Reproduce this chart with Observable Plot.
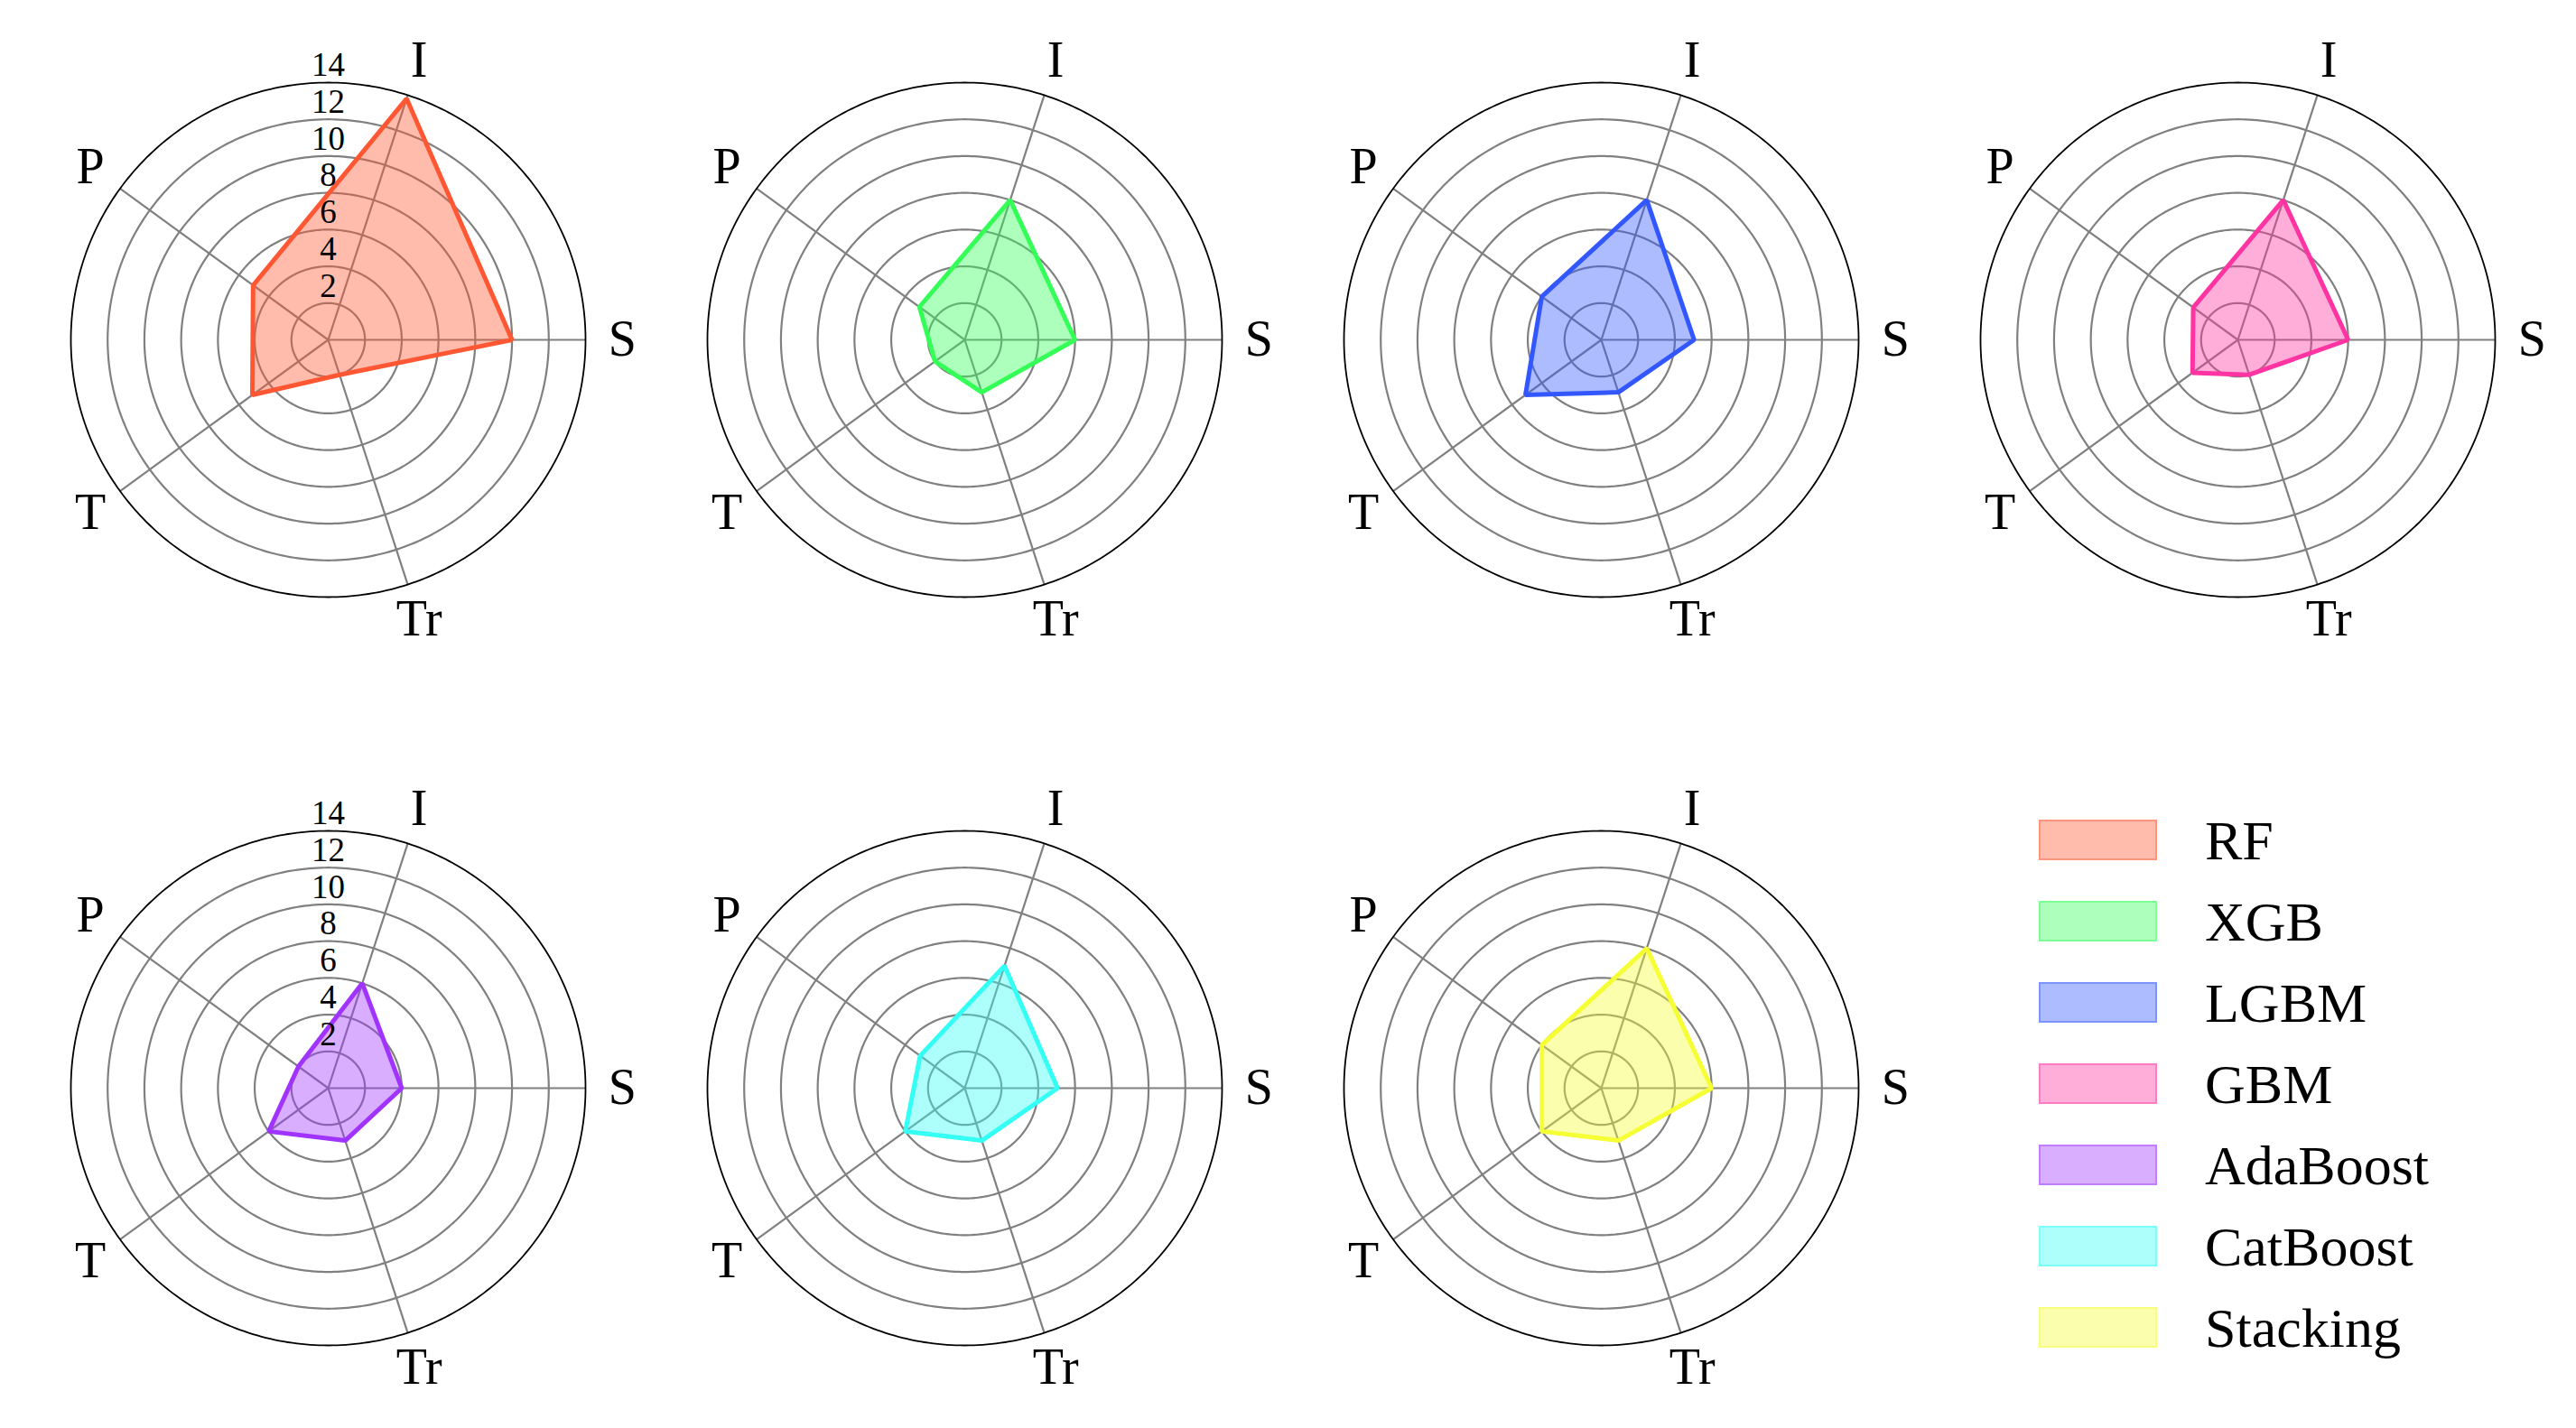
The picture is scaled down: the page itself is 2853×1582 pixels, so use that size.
<!DOCTYPE html>
<html><head><meta charset="utf-8">
<script src="https://cdn.jsdelivr.net/npm/d3@7"></script>
<script src="https://cdn.jsdelivr.net/npm/@observablehq/plot@0.6"></script>
<style>
html,body{margin:0;padding:0;background:#fff;}
#root{position:relative;width:2853px;height:1582px;overflow:hidden;font-family:"Liberation Serif","Times New Roman",serif;background:#fff;}
.panel{position:absolute;}
.panel svg{overflow:visible;}
.legend{position:absolute;left:2258px;top:908px;}
.item{position:absolute;left:0;height:45px;width:560px;}
.sw{position:absolute;left:0;top:0;width:131px;height:45px;}
.lab{position:absolute;left:184px;top:23px;transform:translateY(-50%);font-size:62px;line-height:1;color:#000;white-space:nowrap;}
</style></head><body><div id="root"></div>
<script>
// ---- data ----
const models = ["RF", "XGB", "LGBM", "GBM", "AdaBoost", "CatBoost", "Stacking"];
const axes = ["S", "I", "P", "T", "Tr"];
const colors = ["#FF5733", "#33FF57", "#3357FF", "#FF33A1", "#A133FF", "#33FFF5", "#F5FF33"];
const RF       = [10,   13.8, 5.05, 5.1, 2];
const XGB      = [6,    8,    3.05, 2,   3];
const LGBM     = [5.05, 8,    4,    5.1, 3];
const GBM      = [6,    8,    3,    3.05, 2];
const AdaBoost = [4,    6,    2,    4,   3];
const CatBoost = [5.05, 7,    3,    4,   3];
const Stacking = [6,    8,    4,    4,   3];
const tickValues = [2, 4, 6, 8, 10, 12, 14];
const tickLabels = ["2", "4", "6", "8", "10", "12", "14"];
const series = [RF, XGB, LGBM, GBM, AdaBoost, CatBoost, Stacking];
const rMax = 14;

// ---- layout ----
const root = document.getElementById("root");
const unit = 285 / rMax;             // px per data unit
const W = 706, H = 740;
const colX = [363, 1068, 1773, 2478];
const rowY = [376, 1205];
const font = "Liberation Serif, Times New Roman, serif";
const ang = i => (i * 360 / axes.length) * Math.PI / 180;

// ring geometry from tick values
const ringPts = [];
for (const v of tickValues) {
  for (let k = 0; k <= 360; k++) {
    const a = k * Math.PI / 180;
    ringPts.push({v, x: v * Math.cos(a), y: v * Math.sin(a)});
  }
}
const innerRings = ringPts.filter(d => d.v < rMax);
const outerRing = ringPts.filter(d => d.v === rMax);
const spokes = axes.map((a, i) => ({a, i}));

models.forEach((m, k) => {
  const vals = series[k];
  const pts = vals.map((v, i) => ({axis: axes[i], v, i}));
  const color = colors[k];
  const col = k % 4, row = Math.floor(k / 4);
  const marks = [
    Plot.line(innerRings, {x: "x", y: "y", z: "v", stroke: "#808080", strokeWidth: 2.2}),
    Plot.link(spokes, {x1: 0, y1: 0, x2: d => rMax * Math.cos(ang(d.i)), y2: d => rMax * Math.sin(ang(d.i)), stroke: "#808080", strokeWidth: 2.2}),
    Plot.line(outerRing, {x: "x", y: "y", stroke: "#000", strokeWidth: 1.8}),
    Plot.line(pts, {x: d => d.v * Math.cos(ang(d.i)), y: d => d.v * Math.sin(ang(d.i)), curve: "linear-closed",
      fill: color, fillOpacity: 0.4, stroke: "none"}),
    Plot.line(pts, {x: d => d.v * Math.cos(ang(d.i)), y: d => d.v * Math.sin(ang(d.i)), curve: "linear-closed",
      stroke: color, strokeWidth: 5, strokeLinejoin: "miter"}),
    Plot.text(spokes, {x: d => 16 * Math.cos(ang(d.i)), y: d => 16 * Math.sin(ang(d.i)), text: "a",
      fontSize: 56, fill: "#000", fontFamily: font})
  ];
  if (col === 0) {
    marks.push(Plot.text(tickValues, {x: 0, y: d => d, dy: -19, text: (d, i) => tickLabels[i],
      fontSize: 37, fill: "#000", fontFamily: font}));
  }
  const chart = Plot.plot({
    width: W, height: H, margin: 0,
    x: {domain: [-W / 2 / unit, W / 2 / unit], axis: null},
    y: {domain: [-H / 2 / unit, H / 2 / unit], axis: null},
    style: {background: "transparent", fontFamily: font},
    marks
  });
  const div = document.createElement("div");
  div.className = "panel";
  div.style.left = (colX[col] - W / 2) + "px";
  div.style.top = (rowY[row] - H / 2) + "px";
  div.appendChild(chart);
  root.appendChild(div);
});

// ---- legend ----
const hexA = (hex, a) => {
  const n = parseInt(hex.slice(1), 16);
  return `rgba(${(n >> 16) & 255},${(n >> 8) & 255},${n & 255},${a})`;
};
const leg = document.createElement("div");
leg.className = "legend";
models.forEach((m, k) => {
  const it = document.createElement("div");
  it.className = "item";
  it.style.top = (k * 90) + "px";
  const sw = document.createElement("div");
  sw.className = "sw";
  sw.style.background = hexA(colors[k], 0.4);
  sw.style.boxShadow = `inset 0 0 0 2px ${hexA(colors[k], 0.4)}`;
  const lab = document.createElement("div");
  lab.className = "lab";
  lab.textContent = m;
  it.appendChild(sw);
  it.appendChild(lab);
  leg.appendChild(it);
});
root.appendChild(leg);
</script></body></html>
